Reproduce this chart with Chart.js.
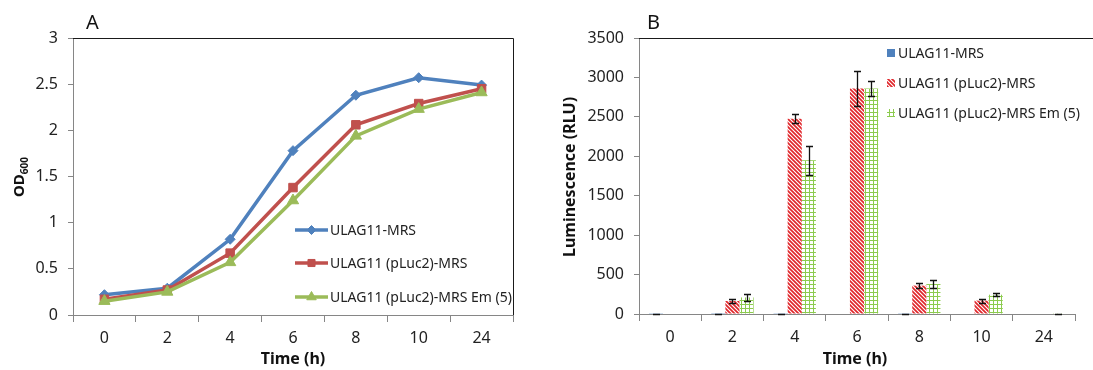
<!DOCTYPE html>
<html><head><meta charset="utf-8">
<script src="https://cdn.jsdelivr.net/npm/chart.js@4.4.0/dist/chart.umd.min.js"></script>
<style>
html,body{margin:0;padding:0;background:#fff;overflow:hidden;}
#cA{position:absolute;left:0;top:0;}
#cB{position:absolute;left:545px;top:0;}
</style></head><body>
<canvas id="cA" width="545" height="370"></canvas>
<canvas id="cB" width="548" height="370"></canvas>
<script>
// ---------- DATA ----------
const timeLabels = ['0', '2', '4', '6', '8', '10', '24'];
const seriesNames = ['ULAG11-MRS', 'ULAG11 (pLuc2)-MRS', 'ULAG11 (pLuc2)-MRS Em (5)'];
// Panel A: OD600
const odMRS      = [0.22, 0.29, 0.82, 1.78, 2.38, 2.57, 2.49];
const odPLuc2    = [0.17, 0.27, 0.67, 1.38, 2.06, 2.29, 2.45];
const odPLuc2Em  = [0.15, 0.25, 0.57, 1.24, 1.94, 2.23, 2.41];
const odTickMax = 3, odTickStep = 0.5;
// Panel B: Luminescence (RLU)
const lumMRS        = [3, 2, 3, 0, 3, 0, 0];
const lumMRSErr     = [0, 0, 0, null, 0, null, null];
const lumPLuc2      = [0, 165, 2475, 2860, 360, 170, 0];
const lumPLuc2Err   = [null, 30, 55, 225, 30, 25, null];
const lumPLuc2Em    = [0, 210, 1950, 2860, 380, 245, 3];
const lumPLuc2EmErr = [null, 40, 185, 100, 45, 20, 0];
const lumTickMax = 3500, lumTickStep = 500;

// ---------- STYLE ----------
const FONT = "'Noto Sans', 'DejaVu Sans', sans-serif";
Chart.defaults.font.family = FONT;
Chart.defaults.color = '#222';
const BLUE = '#4F81BD', RED = '#C0504D', GREEN = '#9BBB59';
const AXIS = '#868686';
const TICK_SIZE = 16;

function hatchPattern() {
  const c = document.createElement('canvas'); c.width = 4; c.height = 4;
  const g = c.getContext('2d');
  g.fillStyle = '#fff'; g.fillRect(0, 0, 4, 4);
  g.strokeStyle = '#E0262B'; g.lineWidth = 1.7;
  g.beginPath();
  g.moveTo(-1, -1); g.lineTo(5, 5);
  g.moveTo(-1, 3); g.lineTo(1, 5);
  g.moveTo(3, -1); g.lineTo(5, 1);
  g.stroke();
  return g.createPattern(c, 'repeat');
}
function gridPattern() {
  const c = document.createElement('canvas'); c.width = 4; c.height = 4;
  const g = c.getContext('2d');
  g.fillStyle = '#fff'; g.fillRect(0, 0, 4, 4);
  g.fillStyle = '#8CCB4E';
  g.fillRect(0, 0, 4, 1); g.fillRect(0, 0, 1, 4);
  return g.createPattern(c, 'repeat');
}
const redFill = hatchPattern();
const greenFill = gridPattern();
const plainTick = v => String(v);

// ---------- PANEL A ----------
new Chart(document.getElementById('cA'), {
  type: 'line',
  data: {
    labels: timeLabels,
    datasets: [
      {label: seriesNames[0], data: odMRS, borderColor: BLUE, backgroundColor: BLUE, borderWidth: 3.5,
       pointStyle: 'rectRot', pointRadius: 5, pointBorderWidth: 1, order: 3},
      {label: seriesNames[1], data: odPLuc2, borderColor: RED, backgroundColor: RED, borderWidth: 3.5,
       pointStyle: 'rect', pointRadius: 6, pointBorderWidth: 1, order: 2},
      {label: seriesNames[2], data: odPLuc2Em, borderColor: GREEN, backgroundColor: GREEN, borderWidth: 3.5,
       pointStyle: 'triangle', pointRadius: 6.5, pointBorderWidth: 1, order: 1}
    ]
  },
  options: {
    responsive: false, animation: false, devicePixelRatio: 1,
    layout: {padding: {top: 38, right: 32, left: 0, bottom: 0}},
    plugins: {legend: {display: false}, tooltip: {enabled: false}},
    elements: {line: {tension: 0}},
    scales: {
      x: {offset: true,
          grid: {offset: true, drawOnChartArea: false, tickLength: 7, color: AXIS},
          border: {color: AXIS},
          ticks: {padding: 7, font: {size: TICK_SIZE}, color: '#222', maxRotation: 0},
          afterFit(s) { s.height = 55; }},
      y: {min: 0, max: odTickMax,
          grid: {drawOnChartArea: false, tickLength: 5, color: AXIS},
          border: {color: AXIS},
          ticks: {stepSize: odTickStep, padding: 10, font: {size: TICK_SIZE}, color: '#222', callback: plainTick},
          afterFit(s) { s.width = 73; }}
    }
  },
  plugins: [{
    id: 'decorA',
    afterDraw(chart) {
      const ctx = chart.ctx;
      ctx.save();
      const rows = [230, 263, 297];
      const cols = [BLUE, RED, GREEN];
      const styles = ['rectRot', 'rect', 'triangle'];
      const rad = [4.5, 5, 5.5];
      cols.forEach((c, i) => {
        ctx.strokeStyle = c; ctx.lineWidth = 3.5;
        ctx.beginPath(); ctx.moveTo(295, rows[i]); ctx.lineTo(328, rows[i]); ctx.stroke();
        ctx.fillStyle = c; ctx.lineWidth = 1;
        Chart.helpers.drawPoint(ctx, {pointStyle: styles[i], radius: rad[i], rotation: 0, borderWidth: 1}, 311.5, rows[i]);
        ctx.fillStyle = '#222'; ctx.font = '14px ' + FONT; ctx.textAlign = 'left'; ctx.textBaseline = 'middle';
        ctx.fillText(seriesNames[i], 330, rows[i] + 1);
      });
      ctx.restore();
      const a = chart.chartArea;
      ctx.save();
      ctx.strokeStyle = '#1a1a1a'; ctx.lineWidth = 1;
      ctx.beginPath();
      ctx.moveTo(a.left, a.top + 0.5); ctx.lineTo(a.right + 0.5, a.top + 0.5);
      ctx.lineTo(a.right + 0.5, a.bottom);
      ctx.stroke();
      ctx.fillStyle = '#111';
      ctx.font = '20px ' + FONT; ctx.textAlign = 'left'; ctx.textBaseline = 'alphabetic';
      ctx.fillText('A', 86, 29);
      ctx.font = 'bold 16px ' + FONT; ctx.textAlign = 'center'; ctx.textBaseline = 'middle';
      ctx.fillText('Time (h)', (a.left + a.right) / 2, 359);
      ctx.translate(20, 177); ctx.rotate(-Math.PI / 2);
      ctx.font = 'bold 15px ' + FONT;
      const w1 = ctx.measureText('OD').width;
      ctx.font = 'bold 10px ' + FONT;
      const w2 = ctx.measureText('600').width;
      const x0 = -(w1 + w2) / 2;
      ctx.textAlign = 'left'; ctx.textBaseline = 'middle';
      ctx.font = 'bold 15px ' + FONT; ctx.fillText('OD', x0, 0);
      ctx.font = 'bold 10px ' + FONT; ctx.fillText('600', x0 + w1, 5);
      ctx.restore();
    }
  }]
});

// ---------- PANEL B ----------
const errArrays = [lumMRSErr, lumPLuc2Err, lumPLuc2EmErr];
new Chart(document.getElementById('cB'), {
  type: 'bar',
  data: {
    labels: timeLabels,
    datasets: [
      {label: seriesNames[0], data: lumMRS, backgroundColor: BLUE, borderWidth: 0},
      {label: seriesNames[1], data: lumPLuc2, backgroundColor: redFill, borderWidth: 0},
      {label: seriesNames[2], data: lumPLuc2Em, backgroundColor: greenFill, borderWidth: 0}
    ]
  },
  options: {
    responsive: false, animation: false, devicePixelRatio: 1,
    layout: {padding: {top: 38, right: 18, left: 0, bottom: 0}},
    plugins: {legend: {display: false}, tooltip: {enabled: false}},
    datasets: {bar: {categoryPercentage: 0.68, barPercentage: 1.0}},
    scales: {
      x: {grid: {offset: true, drawOnChartArea: false, tickLength: 7, color: AXIS},
          border: {color: AXIS},
          ticks: {padding: 7, font: {size: TICK_SIZE}, color: '#222', maxRotation: 0},
          afterFit(s) { s.height = 56; }},
      y: {min: 0, max: lumTickMax,
          grid: {drawOnChartArea: false, tickLength: 5, color: AXIS},
          border: {color: AXIS},
          ticks: {stepSize: lumTickStep, padding: 10, font: {size: TICK_SIZE}, color: '#222', callback: plainTick},
          afterFit(s) { s.width = 94; }}
    }
  },
  plugins: [{
    id: 'errB',
    afterDatasetsDraw(chart) {
      const ctx = chart.ctx, ys = chart.scales.y;
      ctx.save();
      ctx.strokeStyle = '#111'; ctx.lineWidth = 1.3;
      chart.data.datasets.forEach((ds, di) => {
        const meta = chart.getDatasetMeta(di);
        meta.data.forEach((el, i) => {
          const e = errArrays[di][i];
          if (e === null || e === undefined) return;
          const v = ds.data[i];
          const yt = Math.round(ys.getPixelForValue(v + e)) + 0.5;
          const yb = Math.round(ys.getPixelForValue(Math.max(0, v - e))) + 0.5;
          const x = Math.round(el.x) + 0.5;
          ctx.beginPath();
          ctx.moveTo(x, yt); ctx.lineTo(x, yb);
          ctx.moveTo(x - 3.5, yt); ctx.lineTo(x + 3.5, yt);
          ctx.moveTo(x - 3.5, yb); ctx.lineTo(x + 3.5, yb);
          ctx.stroke();
        });
      });
      ctx.restore();
    },
    afterDraw(chart) {
      const ctx = chart.ctx, a = chart.chartArea;
      ctx.save();
      ctx.strokeStyle = '#1a1a1a'; ctx.lineWidth = 1;
      ctx.beginPath(); ctx.moveTo(a.left, a.top + 0.5); ctx.lineTo(chart.width, a.top + 0.5); ctx.stroke();
      const rows = [53, 83, 113];
      const fills = [BLUE, redFill, greenFill];
      fills.forEach((f, i) => {
        ctx.fillStyle = f;
        ctx.fillRect(342, rows[i] - 4, 8, 8);
        ctx.fillStyle = '#222'; ctx.font = '14px ' + FONT; ctx.textAlign = 'left'; ctx.textBaseline = 'middle';
        ctx.fillText(seriesNames[i], 353, rows[i] + 1);
      });
      ctx.fillStyle = '#111';
      ctx.font = '20px ' + FONT; ctx.textAlign = 'left'; ctx.textBaseline = 'alphabetic';
      ctx.fillText('B', 102, 29);
      ctx.font = 'bold 16px ' + FONT; ctx.textAlign = 'center'; ctx.textBaseline = 'middle';
      ctx.fillText('Time (h)', 310, 359);
      ctx.translate(25, 177); ctx.rotate(-Math.PI / 2);
      ctx.font = 'bold 16px ' + FONT;
      ctx.fillText('Luminescence (RLU)', 0, 0);
      ctx.restore();
    }
  }]
});
</script>
</body></html>
